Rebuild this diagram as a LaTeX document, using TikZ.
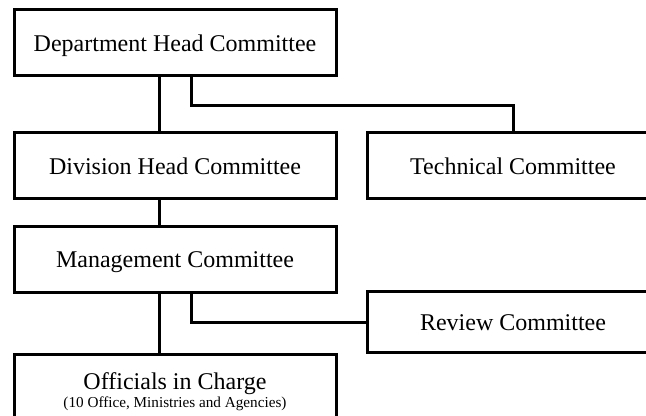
\documentclass[tikz,border=0pt]{standalone}
\usepackage{fontspec}
\setmainfont{Liberation Serif}
\usepackage{tikz}
\usetikzlibrary{positioning, calc}
\newcommand{\subnote}{\fontsize{11.4}{13}\selectfont}

\begin{document}
\begin{tikzpicture}[x=0.75pt, y=-0.75pt, line width=2.25pt,
    font=\fontsize{18}{21}\selectfont,
    cbox/.style={draw, rectangle, inner sep=0pt, text depth=0pt, minimum width=241.5pt, minimum height=49.5pt, align=center},
    sbox/.style={draw, rectangle, inner sep=0pt, text depth=0pt, minimum width=219pt, minimum height=49.5pt, align=center}]
  \useasboundingbox (0,0) rectangle (646,416);
  % left column
  \node[cbox] (dept) at (175,43) {Department Head Committee};
  \node[cbox] (div) at (175,166) {Division Head Committee};
  \node[cbox] (mgmt) at (175,260) {Management Committee};
  \node[cbox, minimum height=52.5pt] (off) at (175,390) {\raisebox{-2pt}{Officials in Charge}\\[-6pt]{\subnote (10 Office, Ministries and Agencies)}};
  % right column (cut at page edge)
  \node[sbox] (tech) at (513,166) {Technical Committee};
  \node[sbox, minimum height=45.75pt] (rev) at (513,322.5) {Review Committee};
  % connectors
  \draw ([xshift=-12pt]dept.south) -- ([xshift=-12pt]div.north);
  \draw ([xshift=12pt]dept.south) -- ++(0,28) -| (tech.north);
  \draw ([xshift=-12pt]div.south) -- ([xshift=-12pt]mgmt.north);
  \draw ([xshift=-12pt]mgmt.south) -- ([xshift=-12pt]off.north);
  \draw ([xshift=12pt]mgmt.south) |- (rev.west);
\end{tikzpicture}
\end{document}
